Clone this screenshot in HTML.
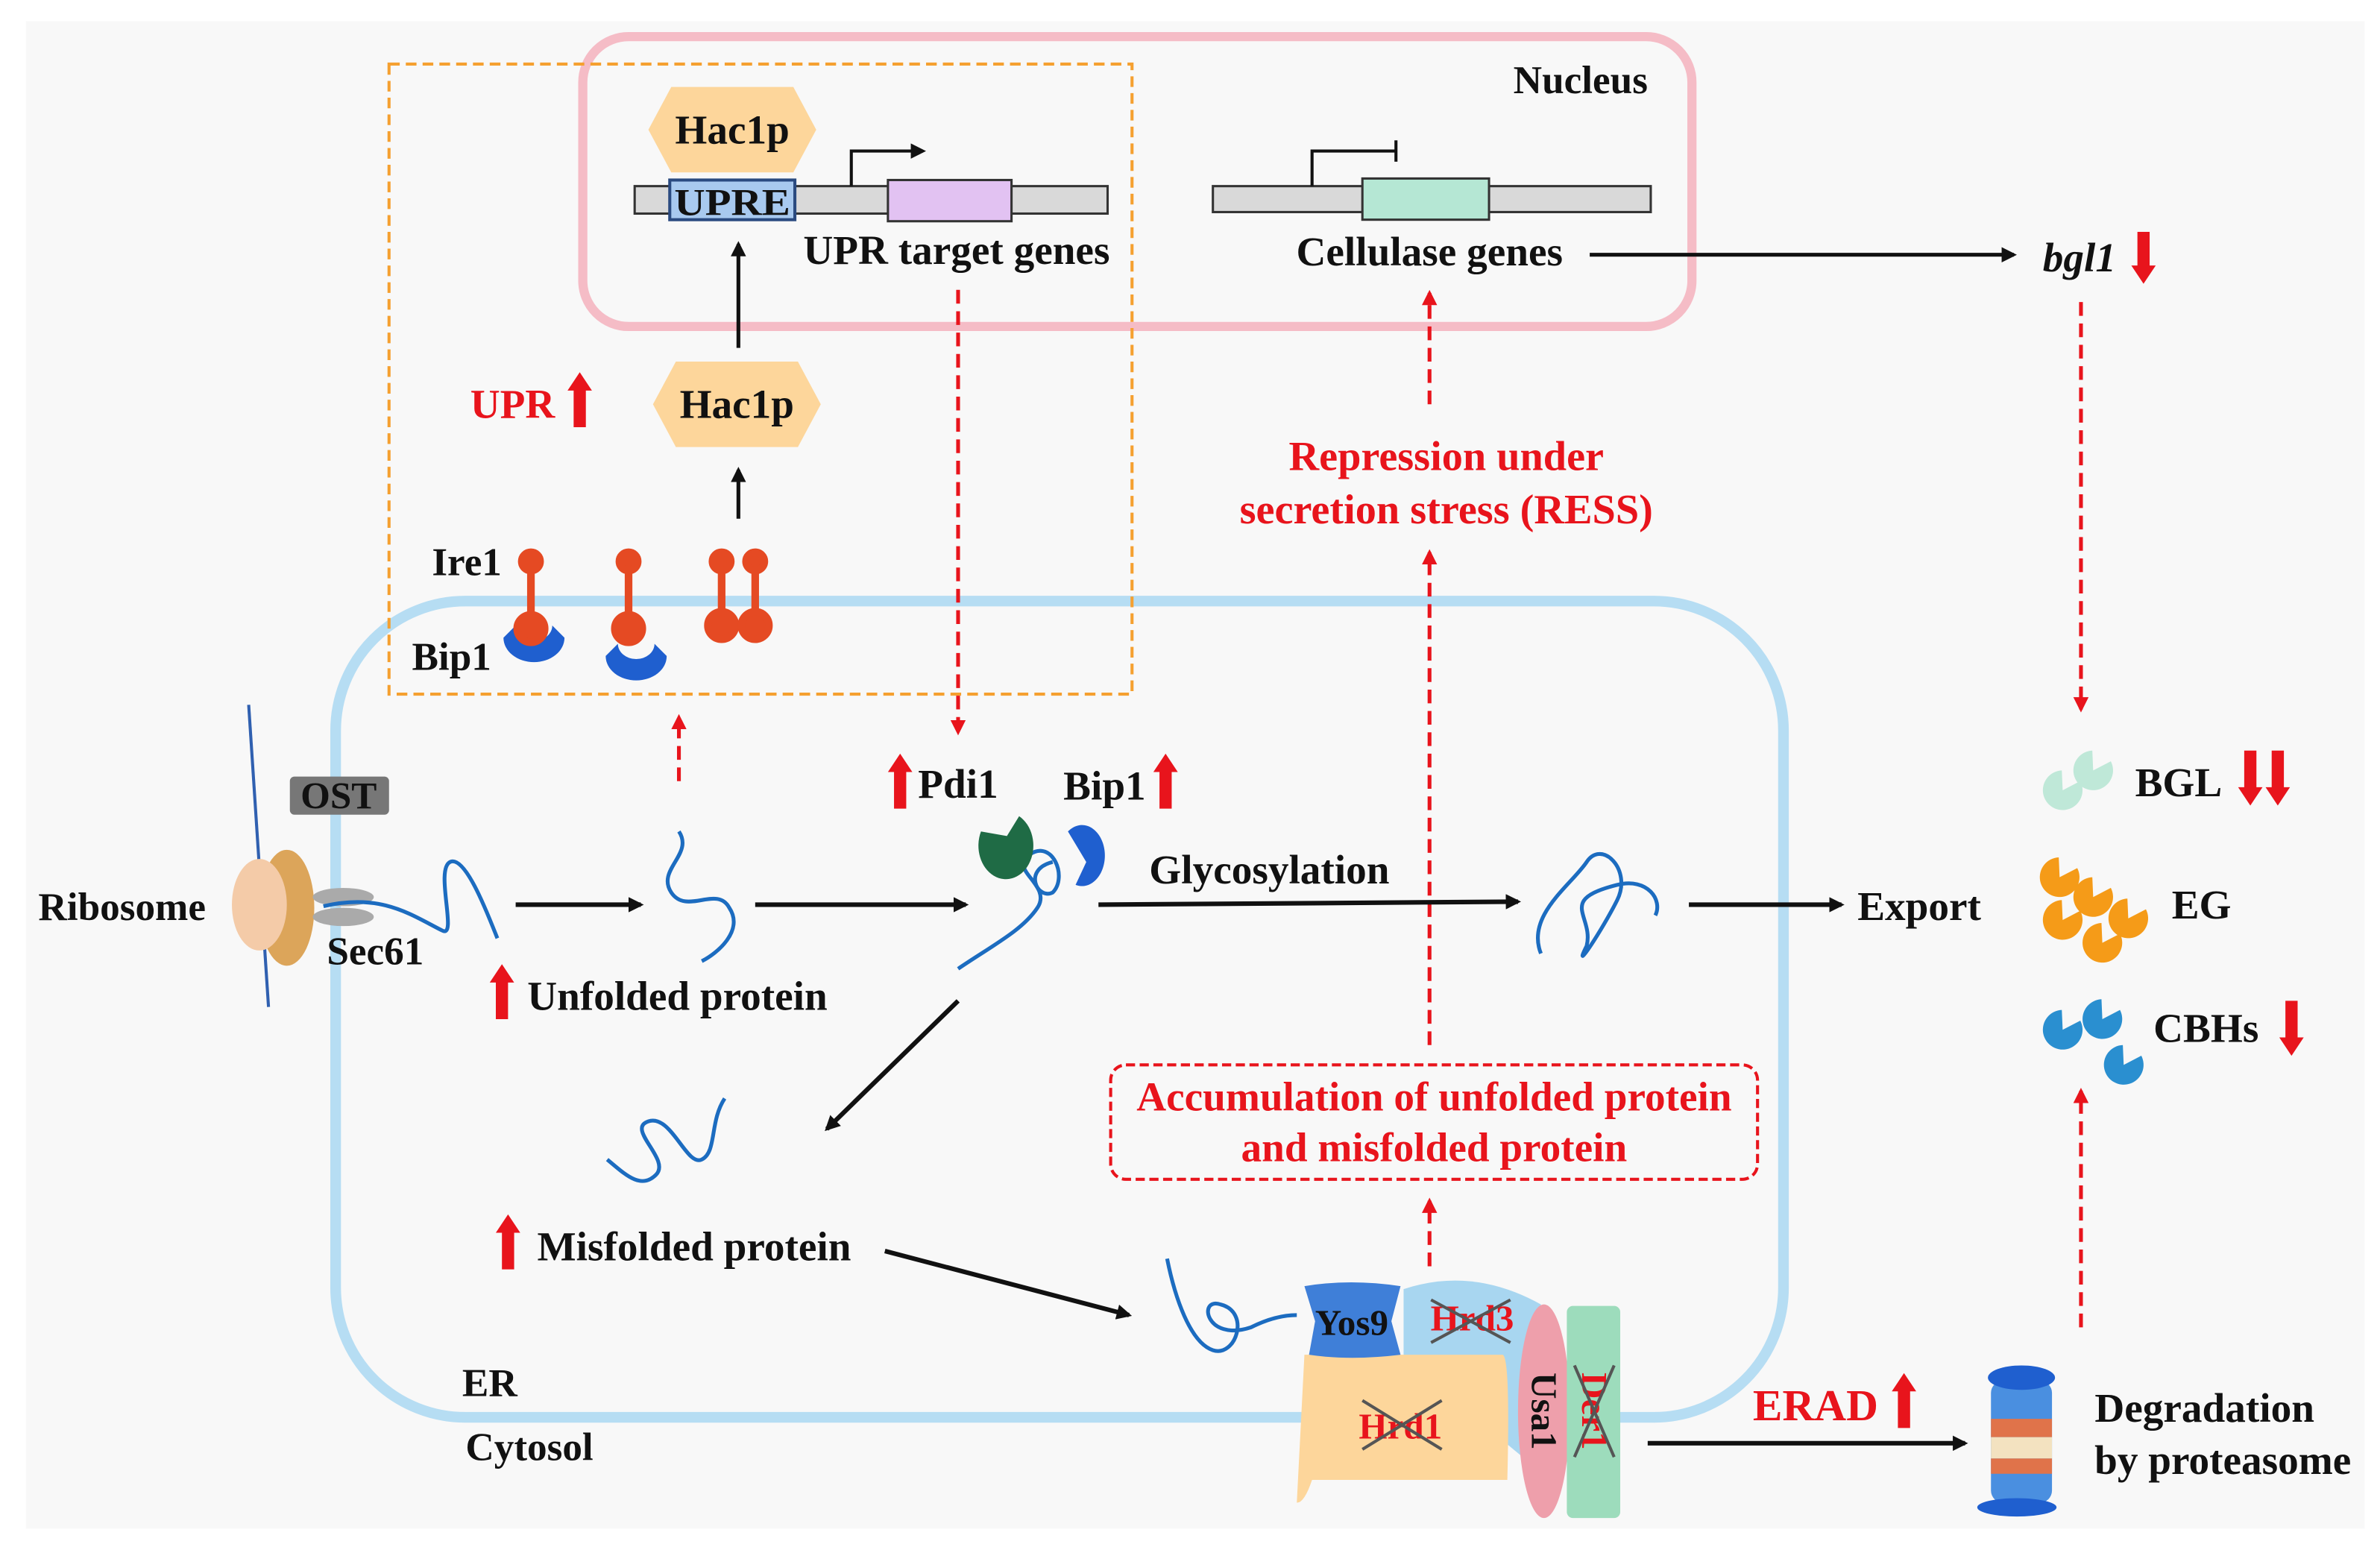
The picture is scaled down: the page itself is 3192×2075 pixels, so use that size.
<!DOCTYPE html>
<html><head><meta charset="utf-8"><style>
html,body{margin:0;padding:0;background:#fff;}
svg{display:block;}
text{font-family:"Liberation Serif",serif;font-weight:bold;fill:#111;}
.r{fill:#e8141c;}
</style></head><body>
<svg width="3192" height="2075" viewBox="0 0 1560 1014" preserveAspectRatio="none" xmlns="http://www.w3.org/2000/svg">
<defs>
<marker id="ab" markerWidth="10" markerHeight="10" refX="8" refY="5" orient="auto" markerUnits="userSpaceOnUse"><path d="M0,0 L10,5 L0,10 z" fill="#111"/></marker>
<marker id="ar" markerWidth="10" markerHeight="10" refX="8" refY="5" orient="auto" markerUnits="userSpaceOnUse"><path d="M0,0 L10,5 L0,10 z" fill="#e8141c"/></marker>
<g id="pac"><path d="M0,0 L11,-7 A13,13 0 1,0 11,7 z"/></g>
</defs>
<rect x="17" y="14" width="1533" height="988" fill="#f8f8f8"/>
<!-- nucleus -->
<rect x="382" y="24" width="727" height="190" rx="30" fill="none" stroke="#f5bcc6" stroke-width="6"/>
<text x="1036" y="61" font-size="26" text-anchor="middle">Nucleus</text>
<!-- ER -->
<rect x="220" y="394" width="949" height="535" rx="85" fill="none" stroke="#b6ddf3" stroke-width="7"/>
<!-- orange dashed -->
<rect x="255" y="42" width="487" height="413" fill="none" stroke="#f5a030" stroke-width="2" stroke-dasharray="7,4"/>
<!-- DNA bars -->
<rect x="416" y="122" width="310" height="18" fill="#d9d9d9" stroke="#333" stroke-width="1.5"/>
<rect x="439" y="118" width="82" height="26" fill="#a8c9ef" stroke="#2a4a80" stroke-width="2"/>
<text x="480" y="141" font-size="25" text-anchor="middle" textLength="76" lengthAdjust="spacingAndGlyphs">UPRE</text>
<rect x="582" y="118" width="81" height="27" fill="#e2c2f2" stroke="#333" stroke-width="1.5"/>
<path d="M558,122 V99 H605" fill="none" stroke="#111" stroke-width="2" marker-end="url(#ab)"/>
<text x="627" y="173" font-size="27" text-anchor="middle">UPR target genes</text>
<rect x="795" y="122" width="287" height="17" fill="#d9d9d9" stroke="#333" stroke-width="1.5"/>
<rect x="893" y="117" width="83" height="27" fill="#b5e7d4" stroke="#333" stroke-width="1.5"/>
<path d="M860,122 V99 H915 M915,92 V106" fill="none" stroke="#111" stroke-width="2"/>
<text x="937" y="174" font-size="27" text-anchor="middle">Cellulase genes</text>
<line x1="1042" y1="167" x2="1320" y2="167" stroke="#111" stroke-width="2.5" marker-end="url(#ab)"/>
<text x="1363" y="178" font-size="27" font-style="italic" text-anchor="middle">bgl1</text>
<!-- hexagons -->
<polygon points="425,85 440,57 520,57 535,85 520,113 440,113" fill="#fdd69b"/>
<text x="480" y="94" font-size="27" text-anchor="middle">Hac1p</text>
<polygon points="428,265 443,237 523,237 538,265 523,293 443,293" fill="#fdd69b"/>
<text x="483" y="274" font-size="27" text-anchor="middle">Hac1p</text>
<line x1="484" y1="228" x2="484" y2="160" stroke="#111" stroke-width="2.5" marker-end="url(#ab)"/>
<line x1="484" y1="340" x2="484" y2="308" stroke="#111" stroke-width="2.5" marker-end="url(#ab)"/>
<text x="336" y="274" font-size="27" text-anchor="middle" class="r">UPR</text>
<!-- Ire1 -->
<text x="306" y="377" font-size="26" text-anchor="middle">Ire1</text>
<text x="296" y="439" font-size="26" text-anchor="middle">Bip1</text>
<path d="M330,418 A20,16 0 0,0 370,418 L362,410 A12,10 0 0,1 338,410 z" fill="#1f5fcf"/>
<path d="M397,430 A20,16 0 0,0 437,430 L429,422 A12,10 0 0,1 405,422 z" fill="#1f5fcf"/>
<g fill="#e54a23" stroke="#e54a23" stroke-width="5">
<line x1="348" y1="370" x2="348" y2="412"/><circle cx="348" cy="368" r="6"/><circle cx="348" cy="412" r="9"/>
<line x1="412" y1="370" x2="412" y2="412"/><circle cx="412" cy="368" r="6"/><circle cx="412" cy="412" r="9"/>
<line x1="473" y1="370" x2="473" y2="410"/><circle cx="473" cy="368" r="6"/><circle cx="473" cy="410" r="9"/>
<line x1="495" y1="370" x2="495" y2="410"/><circle cx="495" cy="368" r="6"/><circle cx="495" cy="410" r="9"/>
</g>
<!-- red dashed arrows -->
<g stroke="#e8141c" stroke-width="2.5" stroke-dasharray="9,5" fill="none">
<line x1="445" y1="512" x2="445" y2="470" marker-end="url(#ar)"/>
<line x1="628" y1="190" x2="628" y2="480" marker-end="url(#ar)"/>
<line x1="937" y1="265" x2="937" y2="192" marker-end="url(#ar)"/>
<line x1="937" y1="685" x2="937" y2="362" marker-end="url(#ar)"/>
<line x1="937" y1="830" x2="937" y2="787" marker-end="url(#ar)"/>
<line x1="1364" y1="198" x2="1364" y2="465" marker-end="url(#ar)"/>
<line x1="1364" y1="870" x2="1364" y2="715" marker-end="url(#ar)"/>
</g>
<text x="948" y="308" font-size="27.5" text-anchor="middle" class="r">Repression under</text>
<text x="948" y="343" font-size="27.5" text-anchor="middle" class="r">secretion stress (RESS)</text>
<rect x="728" y="698" width="424" height="75" rx="10" fill="none" stroke="#e8141c" stroke-width="2" stroke-dasharray="6,3"/>
<text x="940" y="728" font-size="27" text-anchor="middle" class="r">Accumulation of unfolded protein</text>
<text x="940" y="761" font-size="27" text-anchor="middle" class="r">and misfolded protein</text>
<!-- ribosome -->
<line x1="163" y1="462" x2="176" y2="660" stroke="#3060b0" stroke-width="2"/>
<ellipse cx="188" cy="595" rx="18" ry="38" fill="#dca55a"/>
<ellipse cx="170" cy="593" rx="18" ry="30" fill="#f4cba8"/>
<ellipse cx="225" cy="588" rx="20" ry="6" fill="#aaa"/>
<ellipse cx="225" cy="601" rx="20" ry="6" fill="#aaa"/>
<rect x="190" y="509" width="65" height="25" rx="3" fill="#777"/>
<text x="222" y="530" font-size="25" text-anchor="middle">OST</text>
<text x="80" y="603" font-size="26" text-anchor="middle">Ribosome</text>
<text x="246" y="632" font-size="26" text-anchor="middle">Sec61</text>
<g fill="none" stroke="#1c6cc0" stroke-width="2.5">
<path d="M212,594 C250,585 270,600 290,610 C300,615 285,570 295,565 C305,560 320,600 326,615"/>
<path d="M445,545 C455,560 430,570 440,585 C450,600 470,580 478,595 C488,610 470,625 460,630"/>
<path d="M628,635 C650,620 670,610 680,595 C690,580 660,570 675,560 C690,550 700,575 690,585 C680,590 670,570 690,565"/>
<path d="M398,760 C410,770 420,780 430,770 C440,760 410,740 425,735 C440,730 450,765 460,760 C470,755 465,735 475,720"/>
<path d="M1010,625 C1000,600 1030,580 1040,565 C1050,550 1070,570 1060,590 C1050,610 1030,640 1040,620 C1045,600 1020,590 1060,580 C1080,575 1090,590 1085,600"/>
<path d="M765,825 C770,850 780,880 795,885 C810,890 820,860 800,855 C785,850 790,880 820,870 C830,865 840,862 850,862"/>
</g>
<path d="M643,545 A18,22 0 1,0 668,535 L660,548 z" fill="#1f6b45"/>
<path d="M700,545 A15,20 0 1,1 705,580 L712,565 z" fill="#1f5fcf"/>
<line x1="338" y1="593" x2="420" y2="593" stroke="#111" stroke-width="3" marker-end="url(#ab)"/>
<line x1="495" y1="593" x2="633" y2="593" stroke="#111" stroke-width="3" marker-end="url(#ab)"/>
<line x1="720" y1="593" x2="995" y2="591" stroke="#111" stroke-width="3" marker-end="url(#ab)"/>
<text x="832" y="579" font-size="27" text-anchor="middle">Glycosylation</text>
<line x1="1107" y1="593" x2="1207" y2="593" stroke="#111" stroke-width="3" marker-end="url(#ab)"/>
<text x="1258" y="603" font-size="27" text-anchor="middle">Export</text>
<text x="444" y="662" font-size="27" text-anchor="middle">Unfolded protein</text>
<text x="628" y="523" font-size="27" text-anchor="middle">Pdi1</text>
<text x="724" y="524" font-size="27" text-anchor="middle">Bip1</text>
<line x1="628" y1="656" x2="542" y2="740" stroke="#111" stroke-width="3" marker-end="url(#ab)"/>
<text x="455" y="826" font-size="27" text-anchor="middle">Misfolded protein</text>
<line x1="580" y1="820" x2="740" y2="862" stroke="#111" stroke-width="3" marker-end="url(#ab)"/>
<text x="321" y="915" font-size="26" text-anchor="middle">ER</text>
<text x="347" y="957" font-size="26" text-anchor="middle">Cytosol</text>
<!-- ERAD complex -->
<path d="M920,845 Q965,830 1010,855 L1010,965 L920,890 z" fill="#a8d6f0"/>
<path d="M855,888 L985,888 Q990,890 988,970 L860,970 Q855,985 850,985 z" fill="#fdd69b"/>
<path d="M855,843 Q885,838 918,843 L912,866 L918,888 Q885,892 858,888 L862,866 z" fill="#3f7fd8"/>
<ellipse cx="1012" cy="925" rx="17" ry="70" fill="#ee9fab"/>
<rect x="1027" y="856" width="35" height="139" rx="4" fill="#9ddcbc"/>
<text x="886" y="875" font-size="24" text-anchor="middle">Yos9</text>
<text x="965" y="872" font-size="24" text-anchor="middle" class="r">Hrd3</text>
<text x="918" y="943" font-size="24" text-anchor="middle" class="r">Hrd1</text>
<text transform="translate(1004,925) rotate(90)" font-size="24" text-anchor="middle">Usa1</text>
<text transform="translate(1037,925) rotate(90)" font-size="24" text-anchor="middle" class="r">Der1</text>
<g stroke="#555" stroke-width="2">
<line x1="938" y1="852" x2="990" y2="880"/><line x1="990" y1="852" x2="938" y2="880"/>
<line x1="893" y1="918" x2="945" y2="950"/><line x1="945" y1="918" x2="893" y2="950"/>
<line x1="1032" y1="895" x2="1058" y2="955"/><line x1="1058" y1="895" x2="1032" y2="955"/>
</g>
<line x1="1080" y1="946" x2="1288" y2="946" stroke="#111" stroke-width="3" marker-end="url(#ab)"/>
<text x="1190" y="931" font-size="29" text-anchor="middle" class="r">ERAD</text>
<!-- proteasome -->
<rect x="1305" y="905" width="40" height="80" rx="8" fill="#4a8fe0"/>
<rect x="1305" y="930" width="40" height="12" fill="#e0734a"/>
<rect x="1305" y="942" width="40" height="14" fill="#f3e2c0"/>
<rect x="1305" y="956" width="40" height="10" fill="#e0734a"/>
<ellipse cx="1325" cy="903" rx="22" ry="8" fill="#1f5fcf"/>
<ellipse cx="1322" cy="988" rx="26" ry="6" fill="#1f5fcf"/>
<text x="1445" y="932" font-size="27" text-anchor="middle">Degradation</text>
<text x="1457" y="966" font-size="27" text-anchor="middle">by proteasome</text>
<!-- enzymes -->
<g fill="#bfe8d8"><use href="#pac" transform="translate(1352,518) rotate(-60)"/><use href="#pac" transform="translate(1372,505) rotate(-60)"/></g>
<g fill="#f59b18"><use href="#pac" transform="translate(1350,575) rotate(-60)"/><use href="#pac" transform="translate(1372,588) rotate(-60)"/><use href="#pac" transform="translate(1352,603) rotate(-60)"/><use href="#pac" transform="translate(1395,602) rotate(-60)"/><use href="#pac" transform="translate(1378,618) rotate(-60)"/></g>
<g fill="#2a8fd0"><use href="#pac" transform="translate(1352,675) rotate(-60)"/><use href="#pac" transform="translate(1378,668) rotate(-60)"/><use href="#pac" transform="translate(1392,698) rotate(-60)"/></g>
<text x="1428" y="522" font-size="27" text-anchor="middle">BGL</text>
<text x="1443" y="602" font-size="27" text-anchor="middle">EG</text>
<text x="1446" y="683" font-size="27" text-anchor="middle">CBHs</text>
<!-- red thick arrows -->
<g fill="#e8141c">
<path d="M376,280 V256 H372 L380,244 L388,256 H384 V280 z"/>
<path d="M325,668 V644 H321 L329,632 L337,644 H333 V668 z"/>
<path d="M329,832 V808 H325 L333,796 L341,808 H337 V832 z"/>
<path d="M586,530 V506 H582 L590,494 L598,506 H594 V530 z"/>
<path d="M760,530 V506 H756 L764,494 L772,506 H768 V530 z"/>
<path d="M1244,936 V912 H1240 L1248,900 L1256,912 H1252 V936 z"/>
<path d="M1401,152 V174 H1397 L1405,186 L1413,174 H1409 V152 z"/>
<path d="M1471,492 V516 H1467 L1475,528 L1483,516 H1479 V492 z"/>
<path d="M1489,492 V516 H1485 L1493,528 L1501,516 H1497 V492 z"/>
<path d="M1498,656 V680 H1494 L1502,692 L1510,680 H1506 V656 z"/>
</g>
</svg>
</body></html>
